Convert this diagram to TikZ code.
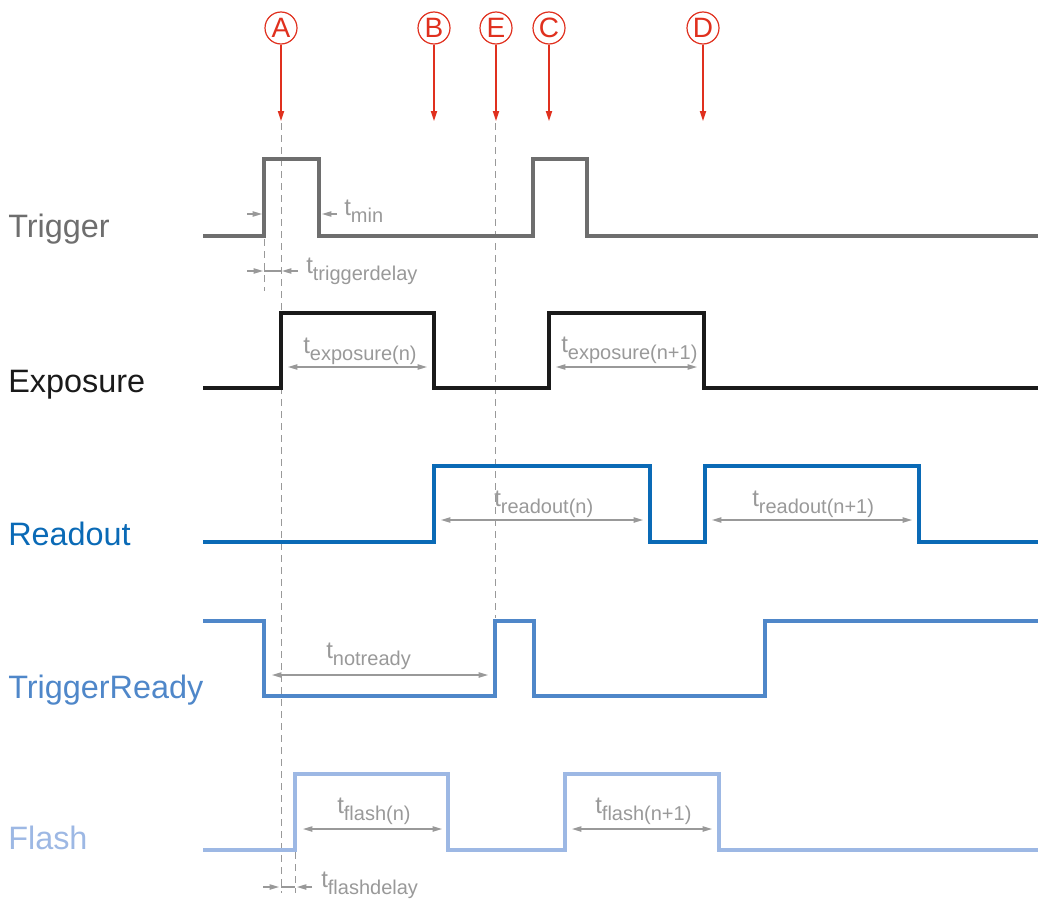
\documentclass[tikz,border=0pt]{standalone}
\usepackage{fontspec}
\setmainfont{Liberation Sans}
\usetikzlibrary{arrows.meta}

\definecolor{trig}{HTML}{6E6E6E}
\definecolor{expo}{HTML}{1A1A1A}
\definecolor{rdout}{HTML}{0A6AB6}
\definecolor{trdy}{HTML}{4F87C9}
\definecolor{flsh}{HTML}{9DB8E4}
\definecolor{dimgray}{HTML}{999999}
\definecolor{markred}{HTML}{E0301E}

% time label: large "t" with a lowered subscript
\newcommand{\tlab}[1]{{\fontsize{18}{18}\selectfont t}\raisebox{-5.25pt}{\fontsize{15}{15}\selectfont #1}}

\tikzset{
  signal/.style={line width=2.3pt, line join=miter},
  guide/.style={draw=dimgray, line width=0.75pt, dash pattern=on 5.5pt off 3.5pt},
  dimarrow/.style={draw=dimgray, line width=0.9pt, -{Triangle[length=7pt,width=4pt]}},
  dimboth/.style={draw=dimgray, line width=0.9pt, {Triangle[length=7pt,width=4pt]}-{Triangle[length=7pt,width=4pt]}},
  dimline/.style={draw=dimgray, line width=0.9pt},
  tlabel/.style={anchor=base west, inner sep=0pt, text=dimgray},
  siglabel/.style={anchor=base west, inner sep=0pt, font=\fontsize{24.3}{24.3}\selectfont},
  marker/.style={circle, draw=markred, text=markred, line width=0.9pt, minimum size=24pt, inner sep=0pt, font=\fontsize{21}{21}\selectfont},
  markarrow/.style={draw=markred, line width=1.1pt, -{Triangle[length=7.5pt,width=4.6pt]}}
}

\begin{document}
\begin{tikzpicture}[x=0.75pt,y=-0.75pt]
\useasboundingbox (0,0) rectangle (1038,899);

% signal names
\node[siglabel, text=trig]  (lTrig)  at (8,237) {Trigger};
\node[siglabel, text=expo]  (lExpo)  at (8,392) {Exposure};
\node[siglabel, text=rdout] (lRead)  at (8,545) {Readout};
\node[siglabel, text=trdy]  (lReady) at (8,698) {TriggerReady};
\node[siglabel, text=flsh]  (lFlash) at (8,849) {Flash};

% guide lines
\draw[guide] (281,123) -- (281,893);
\draw[guide] (495,123) -- (495,618);
\draw[guide] (264,239) -- (264,291);
\draw[guide] (295,852) -- (295,893);

% waveforms
\draw[signal, trig]  (203,236) -| (264,159) -| (319,236) -| (533,159) -| (587,236) -- (1038,236);
\draw[signal, expo]  (203,388) -| (281,313) -| (434,388) -| (549,313) -| (704,388) -- (1038,388);
\draw[signal, rdout] (203,542) -| (434,466) -| (650,542) -| (705,466) -| (919,542) -- (1038,542);
\draw[signal, trdy]  (203,621) -| (264,696) -| (495,621) -| (534,696) -| (765,621) -- (1038,621);
\draw[signal, flsh]  (203,850) -| (295,774) -| (448,850) -| (565,774) -| (719,850) -- (1038,850);

% event markers
\node[marker] (mA) at (281,28) {A};
\node[marker] (mB) at (434,28) {B};
\node[marker] (mE) at (496,28) {E};
\node[marker] (mC) at (549,28) {C};
\node[marker] (mD) at (703,28) {D};
\coordinate (pA) at (281,121);
\coordinate (pB) at (434,121);
\coordinate (pE) at (496,121);
\coordinate (pC) at (549,121);
\coordinate (pD) at (703,121);
\draw[markarrow] (mA) -- (pA);
\draw[markarrow] (mB) -- (pB);
\draw[markarrow] (mE) -- (pE);
\draw[markarrow] (mC) -- (pC);
\draw[markarrow] (mD) -- (pD);

% t_min
\draw[dimarrow] (247,214) -- (262,214);
\draw[dimarrow] (337,214) -- (322,214);
\node[tlabel] (tmin) at (344,215) {\tlab{min}};

% t_triggerdelay
\draw[dimarrow] (247,271) -- (263,271);
\draw[dimline] (264,271) -- (281,271);
\draw[dimarrow] (298,271) -- (282,271);
\node[tlabel] (ttd) at (306,273) {\tlab{triggerdelay}};

% t_exposure
\draw[dimboth] (288,367) -- (427,367);
\node[tlabel] (te1) at (303,353) {\tlab{exposure(n)}};
\draw[dimboth] (556,367) -- (697,367);
\node[tlabel] (te2) at (561,352) {\tlab{exposure(n+1)}};

% t_readout
\draw[dimboth] (441,520) -- (643,520);
\node[tlabel] (tr1) at (494,506) {\tlab{readout(n)}};
\draw[dimboth] (712,520) -- (912,520);
\node[tlabel] (tr2) at (752,506) {\tlab{readout(n+1)}};

% t_notready
\draw[dimboth] (272,675) -- (488,675);
\node[tlabel] (tnr) at (326,658) {\tlab{notready}};

% t_flash
\draw[dimboth] (303,829) -- (442,829);
\node[tlabel] (tf1) at (337,813) {\tlab{flash(n)}};
\draw[dimboth] (572,829) -- (712,829);
\node[tlabel] (tf2) at (595,813) {\tlab{flash(n+1)}};

% t_flashdelay
\draw[dimarrow] (263,887) -- (279,887);
\draw[dimline] (281,887) -- (295,887);
\draw[dimarrow] (312,887) -- (297,887);
\node[tlabel] (tfd) at (321,887) {\tlab{flashdelay}};
\end{tikzpicture}
\end{document}
